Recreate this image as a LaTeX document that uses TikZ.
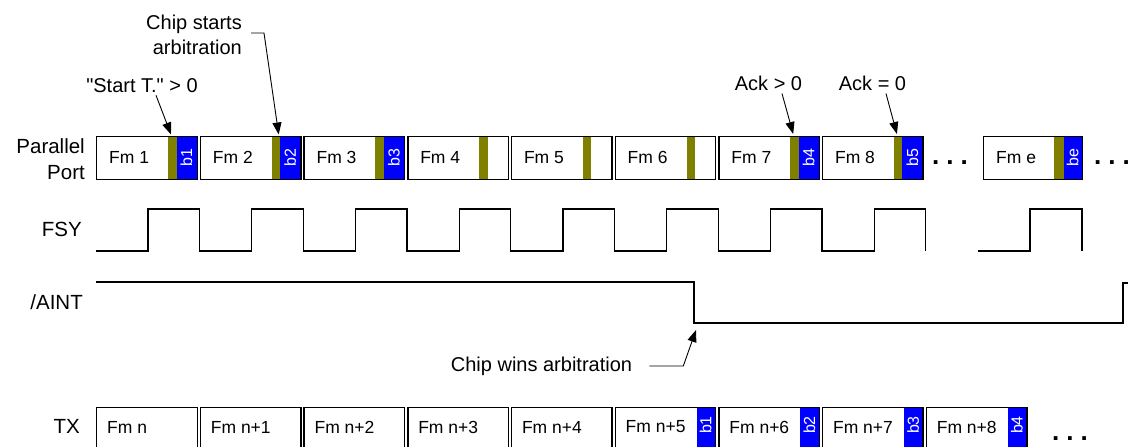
\documentclass[tikz,border=0pt]{standalone}
\usepackage{fontspec}
\setmainfont{Liberation Sans}
\newfontfamily\plainsans{Liberation Sans}
\usetikzlibrary{arrows.meta}
\definecolor{olivebar}{RGB}{128,128,0}
\definecolor{bluebar}{RGB}{0,0,255}
\begin{document}
\begin{tikzpicture}[x=1pt,y=-1pt,
  pbox/.style={draw, line width=1.4pt, minimum width=100.5pt, minimum height=42.5pt, inner sep=0pt, anchor=north west},
  tbox/.style={draw, line width=1.4pt, minimum width=100.5pt, minimum height=50pt, inner sep=0pt, anchor=north west},
  fmtext/.style={font=\fontsize{17.5}{20}\selectfont, anchor=west, inner sep=0pt},
  btext/.style={font=\fontsize{16}{17}\selectfont, text=white, rotate=90, inner sep=0pt},
  lbl/.style={font=\fontsize{20.5}{26}\selectfont, inner sep=0pt},
  ann/.style={font=\fontsize{20}{25}\selectfont, inner sep=0pt},
  ellip/.style={font=\fontsize{26}{28}\bfseries\selectfont, inner sep=0pt},
  wave/.style={line width=1.3pt},
  arr/.style={line width=0.9pt, -{Triangle[length=12pt,width=9pt]}},
]
\useasboundingbox (0,0) rectangle (1128,447);

% row labels
\node[lbl, align=right, anchor=east] (lpp) at (85,159) {Parallel\\Port};
\node[lbl, anchor=east] (lfsy) at (82,229) {FSY};
\node[lbl, anchor=east] (laint) at (83,302) {/AINT};
\node[lbl, anchor=east] (ltx) at (80,426) {TX};

% parallel port frames
\foreach \i/\hasb in {1/1,2/2,3/3,4/0,5/0,6/0,7/4,8/5} {
  \pgfmathsetmacro\bx{96+(\i-1)*103.7}
  \fill[olivebar] (\bx+72,136) rectangle (\bx+80.5,178.5);
  \ifnum\hasb>0
    \fill[bluebar] (\bx+80.5,136) rectangle (\bx+100.5,178.5);
    \node[btext] (pb\i) at (\bx+90.5,157.5) {b\hasb};
  \fi
  \node[pbox] (p\i) at (\bx,136) {};
  \node[fmtext] (pt\i) at (\bx+13,157.5) {Fm \i};
}
\fill[olivebar] (1054,136) rectangle (1063.5,178.5);
\fill[bluebar] (1063.5,136) rectangle (1082,178.5);
\node[btext] (pbe) at (1072.7,157.5) {be};
\node[pbox, minimum width=99pt] (pe) at (983,136) {};
\node[fmtext] (pte) at (996,157.5) {Fm e};
\node[ellip] (dots1) at (950,163) {.\hspace{7pt}.\hspace{7pt}.};
\node[ellip] (dots2) at (1112,163) {.\hspace{7pt}.\hspace{7pt}.};

% annotations
\node[ann] (st) at (142,86) {{\plainsans"}Start T.{\plainsans"} > 0};
\node[ann, align=right, anchor=east] (cs) at (242,34.5) {Chip starts\\arbitration};
\node[ann] (a0) at (768.5,83) {Ack > 0};
\node[ann] (a1) at (872.5,83) {Ack = 0};
\node[ann] (cw) at (541.5,366) {Chip wins arbitration};

\draw[arr] ([xshift=14pt,yshift=-2pt]st.south) -- ([xshift=75pt,yshift=1.5pt]p1.north west);
\draw[arr] ([xshift=9pt,yshift=1.5pt]cs.east) -- ++(13,0) -- ([xshift=79pt,yshift=1.5pt]p2.north west);
\draw[arr] ([xshift=13.5pt,yshift=-3pt]a0.south) -- ([xshift=75pt,yshift=2pt]p7.north west);
\draw[arr] ([xshift=13.5pt,yshift=-3pt]a1.south) -- ([xshift=75pt,yshift=2pt]p8.north west);

% FSY waveform
\draw[wave] (96,251)
  \foreach \k in {0,...,7} {
    -- ({148+103.75*\k},251) -- ({148+103.75*\k},209)
    -- ({199.5+103.75*\k},209) -- ({199.5+103.75*\k},251)
  };
\draw[wave] (978,251) -- (1030,251) -- (1030,209) -- (1082,209) -- (1082,251);

% /AINT waveform
\coordinate (ainfall) at (694,323);
\draw[wave] (96,282) -- (694,282) -- (ainfall) -- (1123,323) -- (1123,283) -- (1135,283);
\draw[arr] ([xshift=17pt]cw.east) -- ++(34,0) -- ([xshift=2pt,yshift=-7pt]ainfall);

% TX frames
\foreach \i/\lab/\hasb in {1/Fm n/0,2/Fm n+1/0,3/Fm n+2/0,4/Fm n+3/0,5/Fm n+4/0,6/Fm n+5/1,7/Fm n+6/2,8/Fm n+7/3,9/Fm n+8/4} {
  \pgfmathsetmacro\bx{96+(\i-1)*103.7}
  \ifnum\hasb>0
    \fill[bluebar] (\bx+82,407) rectangle (\bx+100.5,457);
    \node[btext] (tb\i) at (\bx+91.25,425) {b\hasb};
  \fi
  \node[tbox] (t\i) at (\bx,407) {};
  \node[fmtext] (tt\i) at (\bx+11,427) {\lab};
}
\node[ellip] (dots3) at (1070,439) {.\hspace{7pt}.\hspace{7pt}.};
\end{tikzpicture}
\end{document}
